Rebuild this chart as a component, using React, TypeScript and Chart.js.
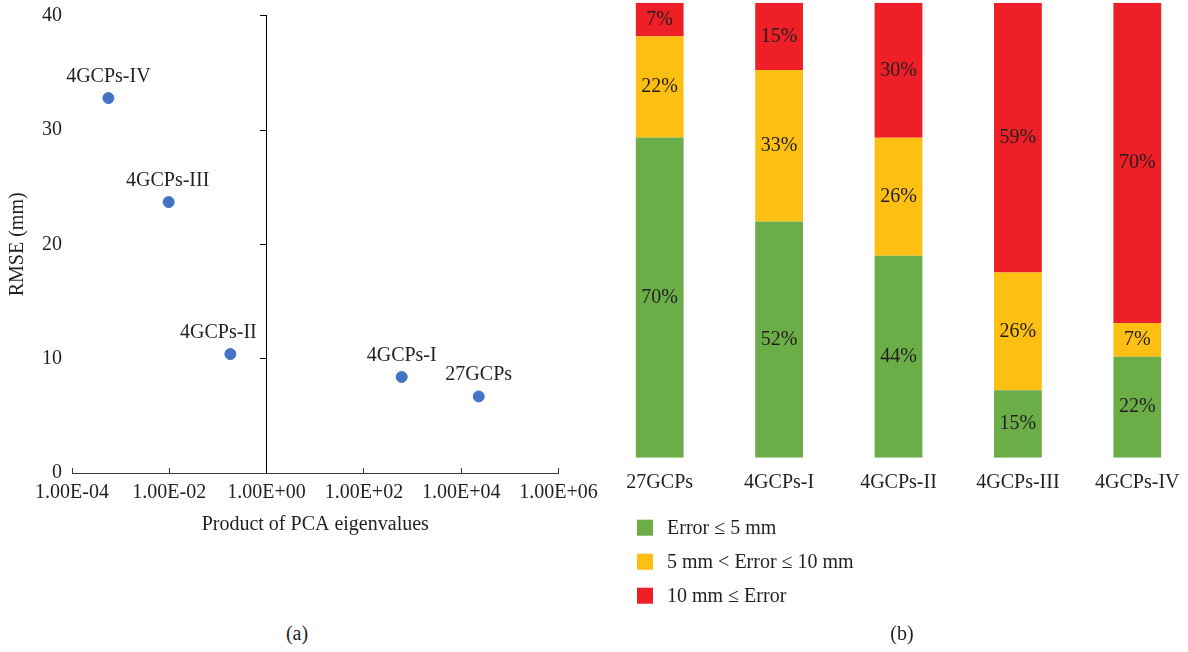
import React, { useEffect, useRef } from 'react';
import { Chart, registerables } from 'chart.js';

Chart.register(...registerables);

// ---------- data: panel (a) ----------
const scatterNames = ['4GCPs-IV', '4GCPs-III', '4GCPs-II', '4GCPs-I', '27GCPs'];
const pcaProduct = [5.6e-4, 9.7e-3, 0.18, 598, 22900];
const rmseMm = [32.8, 23.7, 10.4, 8.4, 6.7];
const xTickValues = [1e-4, 1e-2, 1, 1e2, 1e4, 1e6];
const yTickValues = [0, 10, 20, 30, 40];

// ---------- data: panel (b) ----------
const groups = ['27GCPs', '4GCPs-I', '4GCPs-II', '4GCPs-III', '4GCPs-IV'];
const shareLow = [70.4, 51.9, 44.4, 14.8, 22.2];
const shareMid = [22.2, 33.3, 25.9, 25.9, 7.4];
const shareHigh = [7.4, 14.8, 29.7, 59.3, 70.4];
const classNames = ['Error \u2264 5 mm', '5 mm < Error \u2264 10 mm', '10 mm \u2264 Error'];

// ---------- styles ----------
const FONT_FAMILY = '"Liberation Serif", "Times New Roman", serif';
const TEXT = '#231F20';
const AXIS = '#3a3a3a';
const BLUE = '#4472C4';
const GREEN = '#6BAD47';
const YELLOW = '#FDBF11';
const RED = '#EE1F26';
const font = { family: FONT_FAMILY, size: 20 };

function sci(v: number): string {
  const e = Math.round(Math.log10(v));
  const m = v / Math.pow(10, e);
  return m.toFixed(2) + 'E' + (e < 0 ? '-' : '+') + String(Math.abs(e)).padStart(2, '0');
}

function zeroPadding(s: any) {
  s.paddingTop = 0;
  s.paddingBottom = 0;
  s.paddingLeft = 0;
  s.paddingRight = 0;
}

const pointLabelOffsets = [0, -1, -12, 0, 0];

const pointLabelPlugin = {
  id: 'pointLabels',
  afterDatasetsDraw(chart: any) {
    const ctx = chart.ctx;
    const meta = chart.getDatasetMeta(0);
    ctx.save();
    ctx.font = `20px ${FONT_FAMILY}`;
    ctx.fillStyle = TEXT;
    ctx.textAlign = 'center';
    ctx.textBaseline = 'alphabetic';
    meta.data.forEach((el: any, i: number) => {
      const { x, y } = el.getProps(['x', 'y'], true);
      ctx.fillText(scatterNames[i], x + (pointLabelOffsets[i] || 0), y - 16);
    });
    ctx.restore();
  },
};

const segmentLabelPlugin = {
  id: 'segmentLabels',
  afterDatasetsDraw(chart: any) {
    const ctx = chart.ctx;
    ctx.save();
    ctx.font = `20px ${FONT_FAMILY}`;
    ctx.fillStyle = TEXT;
    ctx.textAlign = 'center';
    ctx.textBaseline = 'middle';
    chart.data.datasets.forEach((ds: any, di: number) => {
      const meta = chart.getDatasetMeta(di);
      meta.data.forEach((el: any, i: number) => {
        const { x, y, base } = el.getProps(['x', 'y', 'base'], true);
        const v = ds.data[i];
        ctx.fillText(Math.round(v) + '%', x, (y + base) / 2);
      });
    });
    ctx.restore();
  },
};

const listLegendPlugin = {
  id: 'listLegend',
  afterDraw(chart: any) {
    const ctx = chart.ctx;
    const ca = chart.chartArea;
    ctx.save();
    ctx.font = `20px ${FONT_FAMILY}`;
    ctx.textAlign = 'left';
    ctx.textBaseline = 'middle';
    chart.data.datasets.forEach((ds: any, i: number) => {
      const cy = ca.bottom + 70 + i * 34;
      ctx.fillStyle = ds.backgroundColor;
      ctx.fillRect(ca.left + 37, cy - 8, 16, 16);
      ctx.fillStyle = TEXT;
      ctx.fillText(ds.label, ca.left + 67, cy + 1);
    });
    ctx.restore();
  },
};

function ScatterPanel() {
  const ref = useRef<HTMLCanvasElement>(null);
  useEffect(() => {
    if (!ref.current) return;
    const chart = new Chart(ref.current, {
      type: 'scatter',
      data: {
        datasets: [
          {
            data: pcaProduct.map((x, i) => ({ x, y: rmseMm[i] })),
            backgroundColor: BLUE,
            borderColor: BLUE,
            pointRadius: 5.5,
            pointHoverRadius: 5.5,
          },
        ],
      },
      options: {
        responsive: false,
        animation: false,
        layout: { padding: { left: 0, right: 41.5, top: 15.7, bottom: 0 } },
        plugins: { legend: { display: false }, tooltip: { enabled: false } },
        scales: {
          x: {
            type: 'logarithmic',
            position: 'bottom',
            min: 1e-4,
            max: 1e6,
            afterBuildTicks: (s: any) => {
              s.ticks = xTickValues.map((v) => ({ value: v }));
            },
            afterFit: (s: any) => {
              s.height = 87;
              zeroPadding(s);
            },
            grid: { display: true, drawOnChartArea: false, drawTicks: true, tickLength: -5, color: AXIS },
            border: { display: true, color: AXIS, width: 1 },
            ticks: {
              callback: (v: any) => sci(Number(v)),
              font,
              color: TEXT,
              padding: 13,
              maxRotation: 0,
              autoSkip: false,
            },
            title: {
              display: true,
              text: 'Product of PCA eigenvalues',
              font,
              color: TEXT,
              padding: { top: 0, bottom: 23 },
            },
          },
          y: {
            position: 'left',
            min: 0,
            max: 40,
            afterBuildTicks: (s: any) => {
              s.ticks = yTickValues.map((v) => ({ value: v }));
            },
            afterFit: (s: any) => {
              s.width = 72;
              zeroPadding(s);
            },
            grid: { display: false, drawTicks: false },
            border: { display: false },
            ticks: { font, color: TEXT, padding: 10 },
            title: {
              display: true,
              text: 'RMSE (mm)',
              font,
              color: TEXT,
              padding: { top: 6, bottom: 0 },
            },
          },
          y2: {
            axis: 'y',
            position: { x: 1 },
            min: 0,
            max: 40,
            afterBuildTicks: (s: any) => {
              s.ticks = yTickValues.map((v) => ({ value: v }));
            },
            afterFit: (s: any) => {
              zeroPadding(s);
            },
            grid: { display: true, drawOnChartArea: false, drawTicks: true, tickLength: 6, color: '#000' },
            border: { display: true, color: '#000', width: 1 },
            ticks: { display: false },
          },
        },
      } as any,
      plugins: [pointLabelPlugin],
    });
    return () => chart.destroy();
  }, []);
  return <canvas ref={ref} width={600} height={560} style={{ display: 'block' }} />;
}

function BarPanel() {
  const ref = useRef<HTMLCanvasElement>(null);
  useEffect(() => {
    if (!ref.current) return;
    const chart = new Chart(ref.current, {
      type: 'bar',
      data: {
        labels: groups,
        datasets: [
          { label: classNames[0], data: shareLow, backgroundColor: GREEN },
          { label: classNames[1], data: shareMid, backgroundColor: YELLOW },
          { label: classNames[2], data: shareHigh, backgroundColor: RED },
        ],
      },
      options: {
        responsive: false,
        animation: false,
        layout: { padding: { left: 0, right: 0, top: 2.7, bottom: 154.3 } },
        datasets: { bar: { categoryPercentage: 1, barPercentage: 0.4 } },
        plugins: { legend: { display: false }, tooltip: { enabled: false } },
        scales: {
          x: {
            stacked: true,
            grid: { display: false, drawTicks: false },
            border: { display: false },
            ticks: { font, color: TEXT, padding: 13, maxRotation: 0, autoSkip: false },
            afterFit: (s: any) => {
              s.height = 40;
              zeroPadding(s);
            },
          },
          y: { stacked: true, min: 0, max: 100, display: false },
        },
      } as any,
      plugins: [segmentLabelPlugin, listLegendPlugin],
    });
    return () => chart.destroy();
  }, []);
  return <canvas ref={ref} width={597} height={652} style={{ display: 'block' }} />;
}

const capStyle: React.CSSProperties = {
  position: 'absolute',
  transform: 'translate(-50%, -50%)',
  fontFamily: FONT_FAMILY,
  fontSize: 20,
  color: TEXT,
  whiteSpace: 'nowrap',
};

export default function App() {
  return (
    <div
      style={{
        position: 'fixed',
        left: 0,
        top: 0,
        width: 1188,
        height: 652,
        overflow: 'hidden',
        background: '#fff',
      }}
    >
      <div style={{ position: 'absolute', left: 0, top: 0 }}>
        <ScatterPanel />
      </div>
      <div style={{ position: 'absolute', left: 600, top: 0 }}>
        <BarPanel />
      </div>
      <div style={{ ...capStyle, left: 297, top: 633 }}>(a)</div>
      <div style={{ ...capStyle, left: 902, top: 633 }}>(b)</div>
    </div>
  );
}
